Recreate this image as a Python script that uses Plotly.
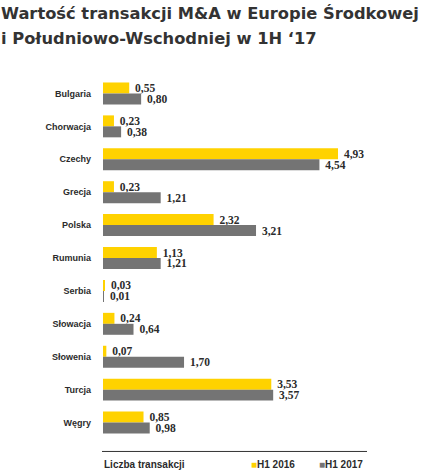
import plotly.graph_objects as go

countries = ["Bulgaria", "Chorwacja", "Czechy", "Grecja", "Polska", "Rumunia",
             "Serbia", "Słowacja", "Słowenia", "Turcja", "Węgry"]
h1_2016 = [0.55, 0.23, 4.93, 0.23, 2.32, 1.13, 0.03, 0.24, 0.07, 3.53, 0.85]
h1_2017 = [0.80, 0.38, 4.54, 1.21, 3.21, 1.21, 0.01, 0.64, 1.70, 3.57, 0.98]
series_names = ["H1 2016", "H1 2017"]
colors = ["#FFD200", "#747474"]
title_lines = ["Wartość transakcji M&A w Europie Środkowej",
               "i Południowo-Wschodniej w 1H ‘17"]
footer_label = "Liczba transakcji"

W, H = 432, 474
ML, MR, MT, MB = 103, 65, 76.5, 34.5
PW, PH = W - ML - MR, H - MT - MB


def px(x):
    return (x - ML) / PW


def py(y):
    return (H - MB - y) / PH


fig = go.Figure()
for name, vals, col in zip(series_names, [h1_2016, h1_2017], colors):
    fig.add_trace(go.Bar(
        y=countries, x=vals, name=name, orientation="h",
        marker=dict(color=col, line=dict(width=0)),
        texttemplate=" %{x:.2f}", textposition="outside",
        textfont=dict(family="Liberation Serif, serif", size=11.5, color="#2b2b2b",
                      weight="bold"),
        constraintext="none", cliponaxis=False, showlegend=False,
    ))

annotations = []
for i, line in enumerate(title_lines):
    annotations.append(dict(
        text=f"<b>{line}</b>", x=px(-1), y=py(13 + 25 * i), xref="paper", yref="paper",
        xanchor="left", yanchor="middle", showarrow=False,
        font=dict(family="DejaVu Sans", size=16.3, color="#333333")))
annotations.append(dict(
    text=f"<b>{footer_label}</b>", x=px(102), y=py(465), xref="paper", yref="paper",
    xanchor="left", yanchor="middle", showarrow=False,
    font=dict(family="Liberation Sans Narrow, Liberation Sans", size=10, color="#2b2b2b")))
for i, (name, col) in enumerate(zip(series_names, colors)):
    annotations.append(dict(
        text=f'<span style="color:{col}">■</span><b>{name}</b>',
        x=px(249 + 68 * i), y=py(465), xref="paper", yref="paper",
        xanchor="left", yanchor="middle", showarrow=False,
        font=dict(family="Liberation Sans", size=10, color="#2b2b2b")))

fig.update_layout(
    width=W, height=H, margin=dict(l=ML, r=MR, t=MT, b=MB),
    paper_bgcolor="white", plot_bgcolor="white",
    barmode="group", bargap=1/3, bargroupgap=0,
    separators=", ",
    xaxis=dict(range=[0, PW / 47.67], visible=False, fixedrange=True),
    yaxis=dict(autorange="reversed", showgrid=False, zeroline=False, showline=False,
               ticks="", ticklabelstandoff=11,
               tickfont=dict(family="Liberation Sans Narrow, Liberation Sans", size=9,
                             color="#2b2b2b", weight="bold")),
    annotations=annotations,
    shapes=[dict(type="line", xref="paper", yref="paper", x0=px(102), x1=px(367),
                 y0=py(452), y1=py(452), line=dict(color="#333333", width=1))],
)

fig.write_html("out.html")
